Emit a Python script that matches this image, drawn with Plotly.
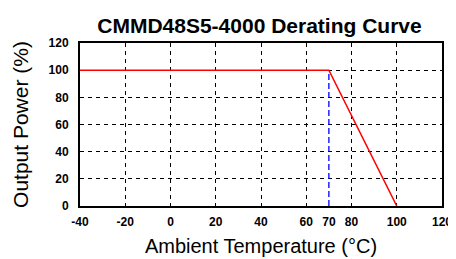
import plotly.graph_objects as go

temp = [-40, 70, 100]
power = [100, 100, 0]
knee_x = [70, 70]
knee_y = [0, 100]
x_ticks = [-40, -20, 0, 20, 40, 60, 70, 80, 100, 120]
y_ticks = [0, 20, 40, 60, 80, 100, 120]

fig = go.Figure()
fig.add_trace(go.Scatter(x=knee_x, y=knee_y, mode="lines",
                         line=dict(color="#0000ff", width=1.3, dash="6px,3px"),
                         showlegend=False, hoverinfo="skip"))
fig.add_trace(go.Scatter(x=temp, y=power, mode="lines",
                         line=dict(color="#ff0000", width=1.5),
                         showlegend=False))
# invisible trace to host tick-label axis
fig.add_trace(go.Scatter(x=[x_ticks[0], x_ticks[-1]], y=[0, 0], xaxis="x2",
                         mode="lines", line=dict(width=0), showlegend=False,
                         hoverinfo="skip"))

tickfont = dict(family="Liberation Sans", size=12, color="black")
titlefont = dict(family="Liberation Sans", size=20, color="black")
fig.update_layout(
    width=456, height=259,
    margin=dict(l=71, r=12, t=35, b=61),
    paper_bgcolor="white", plot_bgcolor="white",
    title=dict(text="<b>CMMD48S5-4000 Derating Curve</b>", x=0.5515, xanchor="center",
               y=0.932, yanchor="middle",
               font=dict(family="Liberation Sans", size=21, color="black")),
    xaxis=dict(range=[-40, 120], dtick=20, tick0=-40, showticklabels=False,
               showgrid=True, gridcolor="black", griddash="4px,4px", gridwidth=1,
               showline=True, linecolor="black", linewidth=2, mirror=True,
               zeroline=False, ticks=""),
    xaxis2=dict(range=[-40, 120], overlaying="x", side="bottom",
                tickvals=x_ticks, ticktext=[f"<b>{v}</b>" for v in x_ticks],
                showgrid=False, zeroline=False, showline=False,
                ticks="outside", ticklen=5, tickcolor="rgba(0,0,0,0)",
                tickfont=tickfont,
                title=dict(text="Ambient Temperature (°C)", standoff=10, font=titlefont)),
    yaxis=dict(range=[0, 120], tickvals=y_ticks, ticktext=[f"<b>{v}</b>" for v in y_ticks],
               showgrid=True, gridcolor="black", griddash="4px,4px", gridwidth=1,
               showline=True, linecolor="black", linewidth=2, mirror=True,
               zeroline=False, ticks="outside", ticklen=7, tickcolor="rgba(0,0,0,0)",
               tickfont=tickfont,
               title=dict(text="Output Power (%)", standoff=14,
                          font=dict(family="Liberation Sans", size=21, color="black"))),
)
fig.write_html("out.html")
